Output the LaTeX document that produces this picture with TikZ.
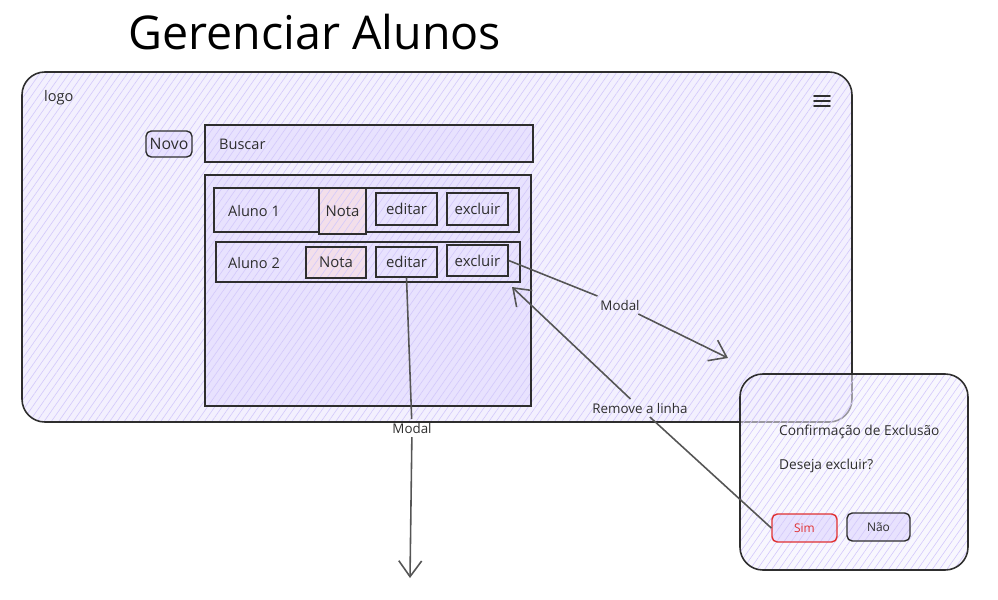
\documentclass[tikz,border=0pt]{standalone}
\usepackage{fontspec}
\setmainfont{Open Sans}
\usetikzlibrary{arrows.meta,patterns.meta,fit}
\definecolor{winfill}{HTML}{F3F0FE}
\definecolor{boxfill}{HTML}{E8E2FE}
\definecolor{hatch}{HTML}{D3C9FB}
\definecolor{ink}{HTML}{2E2E2E}
\definecolor{notafill}{HTML}{F3DFEA}
\definecolor{simred}{HTML}{E03131}
\definecolor{arrowc}{HTML}{555555}
\tikzset{
  hatchfill/.style={preaction={fill=#1}, preaction={pattern={Lines[angle=55,distance=3.4pt,line width=0.35pt]},pattern color=hatch}},
  win/.style={draw=ink, line width=0.9pt, rounded corners=13pt, inner sep=0pt, hatchfill=winfill},
  box/.style={draw=ink, line width=0.8pt, inner sep=0pt, hatchfill=boxfill},
  notabox/.style={draw=ink, line width=0.8pt, inner sep=0pt, hatchfill=notafill},
  rbtn/.style={box, rounded corners=3pt},
  txt/.style={inner sep=1pt, text=ink, font=\fontsize{8.3}{10}\selectfont},
  dtxt/.style={inner sep=1pt, text=ink, font=\fontsize{7.8}{9}\selectfont},
  btxt/.style={inner sep=0pt, text=ink, font=\fontsize{8.5}{10}\selectfont},
  lbl/.style={inner sep=2pt, text=ink, font=\fontsize{7.6}{9}\selectfont},
  conn/.style={draw=arrowc, line width=0.9pt},
  tip/.style={-{Straight Barb[length=9pt,width=13pt,line width=0.9pt]}},
}
\begin{document}
\begin{tikzpicture}[x=0.02cm,y=-0.02cm]
\useasboundingbox (0,0) rectangle (998,599);

% title
\node[inner sep=0, text=black, font=\fontsize{26.5}{30}\selectfont] (title) at (315,32) {Gerenciar Alunos};

% main window
\node[win, fit={(22,72) (852,422)}] (main) {};
\node[txt, anchor=west] (logo) at (42,98) {logo};
\draw[ink, line width=0.9pt, line cap=round] (814,96) -- (830,96) (814,101) -- (830,101) (814,106) -- (830,106);

\node[rbtn, fit={(146,131) (192,157)}] (novo) {};
\node[btxt, font=\fontsize{9}{10}\selectfont] (novot) at (novo.center) {Novo};
\node[box, fit={(205,125) (533,162)}] (busca) {};
\node[txt, anchor=west] (buscar) at (217,144) {Buscar};

\node[box, fit={(205,175) (531,406)}] (lista) {};

% row 1
\node[box, fit={(214,188) (519,232)}] (row1) {};
\node[txt, anchor=west] (al1) at (226,211) {Aluno 1};
\node[notabox, fit={(319,188) (366,234)}] (nota1) {};
\node[btxt] (nota1t) at (nota1.center) {Nota};
\node[box, fit={(376,193) (437,225)}] (ed1) {};
\node[btxt] (ed1t) at (ed1.center) {editar};
\node[box, fit={(447,193) (508,225)}] (ex1) {};
\node[btxt] (ex1t) at (ex1.center) {excluir};

% row 2
\node[box, fit={(216,242) (520,282)}] (row2) {};
\node[txt, anchor=west] (al2) at (226,263) {Aluno 2};
\node[notabox, fit={(306,247) (366,278)}] (nota2) {};
\node[btxt] (nota2t) at (nota2.center) {Nota};
\node[box, fit={(376,247) (437,277)}] (ed2) {};
\node[btxt] (ed2t) at (ed2.center) {editar};
\node[box, fit={(447,245) (508,276)}] (ex2) {};
\node[btxt] (ex2t) at (ex2.center) {excluir};

% modal dialog
\node[draw=ink, line width=0.9pt, rounded corners=13pt, inner sep=0pt,
      preaction={fill=winfill, fill opacity=0.55},
      preaction={pattern={Lines[angle=55,distance=3.4pt,line width=0.35pt]},pattern color=hatch},
      fit={(740,374) (968,570)}] (dlg) {};
\node[dtxt, anchor=west] (conf) at (777,432) {Confirmação de Exclusão};
\node[dtxt, anchor=west] (desej) at (777,466) {Deseja excluir?};
\node[rbtn, draw=simred, fit={(772,514) (837,542)}] (sim) {};
\node[btxt, text=simred, font=\fontsize{6.8}{8}\selectfont] (simt) at (sim.center) {Sim};
\node[rbtn, fit={(847,513) (910,541)}] (nao) {};
\node[btxt, font=\fontsize{6.8}{8}\selectfont] (naot) at (nao.center) {Não};

% connectors
\node[lbl] (m1) at (620,305) {Modal};
\coordinate (m1tip) at (728,358);
\draw[conn] (ex2.east) -- (m1);
\draw[conn, tip] (m1) -- (m1tip);

\node[lbl] (rl) at (640,408) {Remove a linha};
\coordinate (rltip) at (512,287);
\draw[conn] (sim.west) -- (rl);
\draw[conn, tip] (rl) -- (rltip);

\node[lbl] (m2) at (412,428) {Modal};
\coordinate (m2tip) at (410,578);
\draw[conn] (ed2.south) -- (m2);
\draw[conn, tip] (m2) -- (m2tip);
\end{tikzpicture}
\end{document}
